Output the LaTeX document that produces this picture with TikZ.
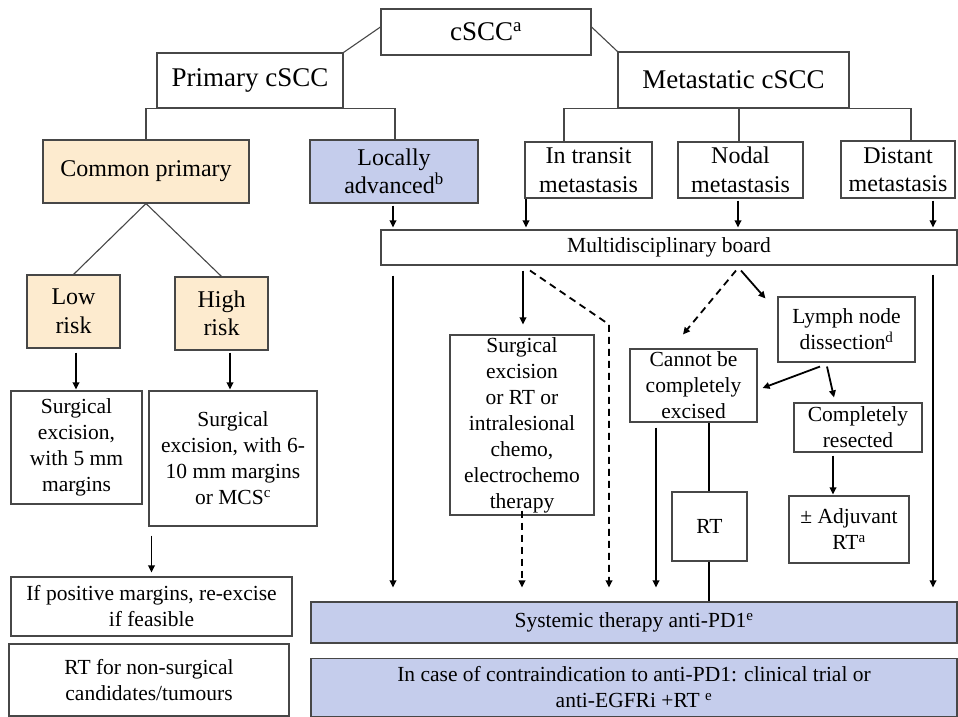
\documentclass[tikz,border=0pt]{standalone}
\usepackage{fontspec}
\setmainfont{Liberation Serif}
\usetikzlibrary{arrows.meta,calc}
\definecolor{bordc}{HTML}{474747}
\definecolor{orfill}{HTML}{FDEBCF}
\definecolor{blfill}{HTML}{C5CDEC}
\newcommand\fbody{\fontsize{21.5}{26}\selectfont}
\newcommand\fmid{\fontsize{24}{28.5}\selectfont}
\newcommand\fbig{\fontsize{27}{32}\selectfont}
\begin{document}
\begin{tikzpicture}[x=1pt,y=-1pt,
  box/.style={draw=bordc, line width=1.1pt, fill=white, inner sep=0pt, align=center, font=\fbody},
  orbox/.style={box, fill=orfill, font=\fmid},
  blbox/.style={box, fill=blfill},
  tree/.style={draw=bordc, line width=1.1pt},
  arr/.style={draw=black, line width=1.8pt, -{Triangle[length=7pt,width=6.5pt]}},
  darr/.style={arr, dash pattern=on 7pt off 5pt},
  plain/.style={draw=black, line width=1.8pt}]
\useasboundingbox (0,0) rectangle (958,717);
\fill[white] (0,0) rectangle (958,717);

% top level
\node[box, font=\fbig, minimum width=210pt, minimum height=46pt] (cscc) at (486,32) {cSCC\textsuperscript{a}};
\node[box, font=\fbig, minimum width=186pt, minimum height=55pt] (prim) at (250,80.5) {Primary cSCC};
\node[box, font=\fbig, minimum width=231pt, minimum height=56pt] (meta) at (733.5,80) {Metastatic cSCC};

% second level
\node[orbox, minimum width=206pt, minimum height=63pt] (common) at (146,171.5) {Common primary};
\node[blbox, font=\fmid, minimum width=168pt, minimum height=63pt] (local) at (394,171.5) {Locally\\advanced\textsuperscript{b}};
\node[box, font=\fmid, minimum width=127pt, minimum height=56pt] (intransit) at (588.5,170) {In transit\\metastasis};
\node[box, font=\fmid, minimum width=125pt, minimum height=56pt] (nodal) at (740.5,170) {Nodal\\metastasis};
\node[box, font=\fmid, minimum width=114pt, minimum height=57pt] (distant) at (898,169.5) {Distant\\metastasis};

\node[box, minimum width=576pt, minimum height=35pt] (mdb) at (669,247.5) {Multidisciplinary board};

% primary branch
\node[orbox, minimum width=93pt, minimum height=73pt] (low) at (73.5,311.5) {Low\\risk};
\node[orbox, minimum width=93pt, minimum height=73pt] (high) at (221.5,313.5) {High\\risk};
\node[box, minimum width=131pt, minimum height=113pt] (surg1) at (76.5,447.5) {Surgical\\excision,\\with 5 mm\\margins};
\node[box, minimum width=168pt, minimum height=135pt] (surg2) at (233,458.5) {Surgical\\excision, with 6-\\10 mm margins\\or MCS\textsuperscript{c}};
\node[box, minimum width=281pt, minimum height=59pt] (posm) at (151.5,606.5) {If positive margins, re-excise\\if feasible};
\node[box, minimum width=280pt, minimum height=72pt] (rtns) at (149,680) {RT for non-surgical\\candidates/tumours};

% metastatic branch
\node[box, minimum width=144pt, minimum height=180pt] (surg3) at (522,425) {Surgical\\excision\\or RT or\\intralesional\\chemo,\\electrochemo\\therapy};
\node[box, minimum width=127pt, minimum height=73pt] (cannot) at (693.5,385.5) {Cannot be\\completely\\excised};
\node[box, minimum width=137pt, minimum height=65pt] (lnd) at (846.5,329.5) {Lymph node\\dissection\textsuperscript{d}};
\node[box, minimum width=128pt, minimum height=49pt] (compres) at (858,427.5) {Completely\\resected};
\node[box, minimum width=75pt, minimum height=69pt] (rt) at (709.5,526.5) {RT};
\node[box, minimum width=120pt, minimum height=67pt] (adj) at (849,529.5) {± Adjuvant\\RT\textsuperscript{a}};

% bottom
\node[blbox, minimum width=646pt, minimum height=41pt] (sys) at (634,622.5) {Systemic therapy anti-PD1\textsuperscript{e}};
\node[blbox, minimum width=646pt, minimum height=58pt] (contra) at (634,687.5) {In case of contraindication to anti-PD1: clinical trial or\\anti-EGFRi +RT \textsuperscript{e}};

% helper x positions
\coordinate (xA) at (393,0);
\coordinate (xB) at (523,0);
\coordinate (xC) at (609,0);
\coordinate (xD) at (656,0);
\coordinate (xE) at (709,0);
\coordinate (xF) at (933,0);
\coordinate (xM1) at (564,0);
\coordinate (xM3) at (911,0);
\coordinate (xH) at (230,0);
\coordinate (xT) at (526,0);
\coordinate (xN) at (738,0);

% tree lines
\draw[tree] ($(cscc.west)+(0,-5)$) -- (prim.north east);
\draw[tree] ($(cscc.east)+(0,-5)$) -- (meta.north west);
\draw[tree] (common.north) -- (common.north |- prim.south) -- ($(local.north |- prim.south)+(1,0)$) -- ($(local.north)+(1,0)$);
\draw[tree] (intransit.north -| xM1) -- (meta.south -| xM1) -- (meta.south -| xM3) -- (distant.north -| xM3);
\draw[tree] ($(nodal.north)+(-1.5,0)$) -- ($(meta.south -| nodal.north)+(-1.5,0)$);
\draw[tree] (common.south) -- (low.north);
\draw[tree] (common.south) -- (high.north);

% primary arrows
\draw[arr] ($(low.south)+(2.5,4)$) -- ($(low.south |- surg1.north)+(2.5,-1)$);
\draw[arr] ($(high.south -| xH)+(0,2)$) -- ($(surg2.north -| xH)+(0,-1)$);
\draw[arr] ($(surg2.south -| posm.north)+(0,9)$) -- ($(posm.north)+(0,-4)$);

% to multidisciplinary board
\draw[arr] ($(local.south -| xA)+(0,2)$) -- ($(mdb.north -| xA)+(0,-2)$);
\draw[arr] ($(intransit.south -| xT)+(0,0)$) -- ($(mdb.north -| xT)+(0,-2)$);
\draw[arr] ($(nodal.south -| xN)+(0,2)$) -- ($(mdb.north -| xN)+(0,-2)$);
\draw[arr] ($(distant.south -| xF)+(0,2)$) -- ($(mdb.north -| xF)+(0,-2)$);

% from multidisciplinary board
\draw[arr] ($(mdb.south -| xA)+(0,10)$) -- ($(sys.north -| xA)+(0,-14)$);
\draw[arr] ($(mdb.south -| xB)+(0,5)$) -- ($(surg3.north -| xB)+(0,-10)$);
\draw[darr] ($(mdb.south)+(-139,5)$) -- ($(surg3.north -| xC)+(0,-10)$) -- ($(sys.north -| xC)+(0,-14)$);
\draw[darr] ($(surg3.south)+(0,-5)$) -- ($(sys.north -| surg3.south)+(0,-14)$);
\draw[darr] ($(mdb.south)+(67,5)$) -- ($(cannot.north)+(-10.5,-14)$);
\draw[arr] ($(mdb.south)+(72,5)$) -- ($(lnd.north west)+(-12,2)$);
\draw[arr] ($(lnd.south)+(-26.5,4)$) -- ($(cannot.east)+(5,2.5)$);
\draw[arr] ($(lnd.south)+(-19.5,4)$) -- ($(compres.north)+(-24,-5)$);
\draw[arr] ($(compres.south)+(-25,3)$) -- ($(adj.north)+(-16,-1)$);
\draw[plain] (cannot.south -| xE) -- (rt.north -| xE);
\draw[plain] (rt.south -| xE) -- (sys.north -| xE);
\draw[arr] ($(cannot.south -| xD)+(0,5)$) -- ($(sys.north -| xD)+(0,-14)$);
\draw[arr] ($(mdb.south -| xF)+(0,9)$) -- ($(sys.north -| xF)+(0,-14)$);
\end{tikzpicture}
\end{document}
